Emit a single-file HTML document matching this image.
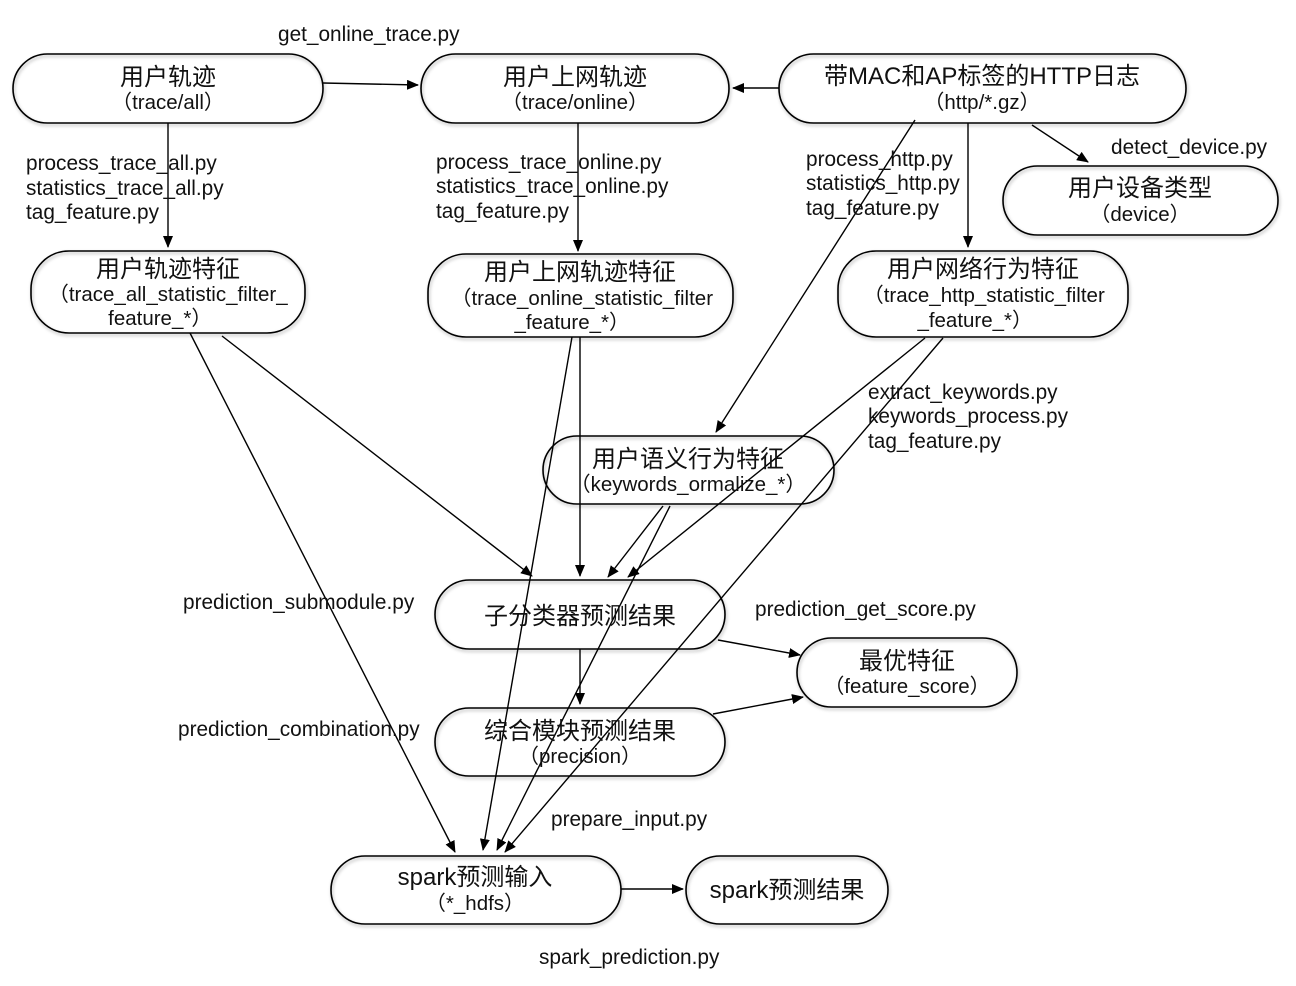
<!DOCTYPE html>
<html><head><meta charset="utf-8"><style>
html,body{margin:0;padding:0;background:#fff;}
svg{display:block;}
text{font-family:"Liberation Sans","Noto Sans CJK SC",sans-serif;fill:#111;}
.t{font-size:24px;text-anchor:middle;}
.s{font-size:20.5px;text-anchor:middle;}
.l{font-size:20.8px;}
</style></head><body>
<svg width="1296" height="986" viewBox="0 0 1296 986" xmlns="http://www.w3.org/2000/svg">
<defs>
<marker id="a" markerWidth="12" markerHeight="10" refX="11" refY="5" orient="auto" markerUnits="userSpaceOnUse">
<path d="M0,0 L12,5 L0,10 Z" fill="#000"/></marker>
<filter id="sh" x="-5%" y="-10%" width="110%" height="130%"><feDropShadow dx="1" dy="2" stdDeviation="1.5" flood-color="#000" flood-opacity="0.3"/></filter>
</defs>
<g fill="none" stroke="#000" stroke-width="1.6" filter="url(#sh)">
<rect x="13" y="54" width="310" height="69" rx="34.5"/>
<rect x="421" y="54" width="308" height="69" rx="34.5"/>
<rect x="779" y="54" width="407" height="69" rx="34.5"/>
<rect x="1003" y="166" width="275" height="69" rx="34.5"/>
<rect x="31" y="251" width="274" height="82" rx="38"/>
<rect x="428" y="254" width="305" height="83" rx="38"/>
<rect x="838" y="251" width="290" height="86" rx="38"/>
<rect x="543" y="436" width="291" height="68" rx="34"/>
<rect x="435" y="580" width="290" height="69" rx="34.5"/>
<rect x="797" y="638" width="220" height="69" rx="34.5"/>
<rect x="435" y="708" width="290" height="68" rx="34"/>
<rect x="331" y="856" width="290" height="68" rx="34"/>
<rect x="686" y="856" width="202" height="68" rx="34"/>
</g>
<g stroke="#000" stroke-width="1.4" fill="none" marker-end="url(#a)">
<line x1="323" y1="83" x2="418" y2="85"/>
<line x1="779" y1="88" x2="733" y2="88"/>
<line x1="168" y1="123" x2="168" y2="247"/>
<line x1="578" y1="123" x2="578" y2="251"/>
<line x1="968" y1="123" x2="968" y2="247"/>
<line x1="1032" y1="125" x2="1088" y2="162"/>
<line x1="915" y1="120" x2="716" y2="432"/>
<line x1="580" y1="337" x2="580" y2="576"/>
<line x1="222" y1="336" x2="532" y2="576"/>
<line x1="925" y1="338" x2="628" y2="577"/>
<line x1="663" y1="506" x2="608" y2="577"/>
<line x1="670" y1="506" x2="497" y2="850"/>
<line x1="943" y1="338" x2="505" y2="852"/>
<line x1="572" y1="337" x2="483" y2="850"/>
<line x1="190" y1="333" x2="455" y2="852"/>
<line x1="580" y1="649" x2="580" y2="704"/>
<line x1="718" y1="640" x2="800" y2="655"/>
<line x1="713" y1="714" x2="803" y2="697"/>
<line x1="621" y1="889" x2="683" y2="889"/>
</g>
<g>
<text class="t" x="168" y="85">用户轨迹</text><text class="s" x="168" y="109">（trace/all）</text>
<text class="t" x="575" y="85">用户上网轨迹</text><text class="s" x="575" y="109">（trace/online）</text>
<text class="t" x="982" y="84">带MAC和AP标签的HTTP日志</text><text class="s" x="982" y="109">（http/*.gz）</text>
<text class="t" x="1140" y="196">用户设备类型</text><text class="s" x="1140" y="221">（device）</text>
<text class="t" x="168" y="277">用户轨迹特征</text><text class="s" x="168" y="301">（trace_all_statistic_filter_</text><text class="s" x="160" y="325">feature_*）</text>
<text class="t" x="580" y="280">用户上网轨迹特征</text><text class="s" x="582" y="305">（trace_online_statistic_filter</text><text class="s" x="572" y="329">_feature_*）</text>
<text class="t" x="983" y="277">用户网络行为特征</text><text class="s" x="984" y="302">（trace_http_statistic_filter</text><text class="s" x="975" y="327">_feature_*）</text>
<text class="t" x="688" y="467">用户语义行为特征</text><text class="s" x="688" y="491">（keywords_ormalize_*）</text>
<text class="t" x="580" y="624">子分类器预测结果</text>
<text class="t" x="907" y="669">最优特征</text><text class="s" x="907" y="693">（feature_score）</text>
<text class="t" x="580" y="739">综合模块预测结果</text><text class="s" x="580" y="763">（precision）</text>
<text class="t" x="475" y="885">spark预测输入</text><text class="s" x="475" y="910">（*_hdfs）</text>
<text class="t" x="787" y="898">spark预测结果</text>
</g>
<g class="l">
<text class="l" x="278" y="41">get_online_trace.py</text>
<text class="l" x="26" y="170">process_trace_all.py</text><text class="l" x="26" y="195">statistics_trace_all.py</text><text class="l" x="26" y="219">tag_feature.py</text>
<text class="l" x="436" y="169">process_trace_online.py</text><text class="l" x="436" y="193">statistics_trace_online.py</text><text class="l" x="436" y="218">tag_feature.py</text>
<text class="l" x="806" y="166">process_http.py</text><text class="l" x="806" y="190">statistics_http.py</text><text class="l" x="806" y="215">tag_feature.py</text>
<text class="l" x="1111" y="154">detect_device.py</text>
<text class="l" x="868" y="399">extract_keywords.py</text><text class="l" x="868" y="423">keywords_process.py</text><text class="l" x="868" y="448">tag_feature.py</text>
<text class="l" x="183" y="609">prediction_submodule.py</text>
<text class="l" x="755" y="616">prediction_get_score.py</text>
<text class="l" x="178" y="736">prediction_combination.py</text>
<text class="l" x="551" y="826">prepare_input.py</text>
<text class="l" x="539" y="964">spark_prediction.py</text>
</g>
</svg>
</body></html>
